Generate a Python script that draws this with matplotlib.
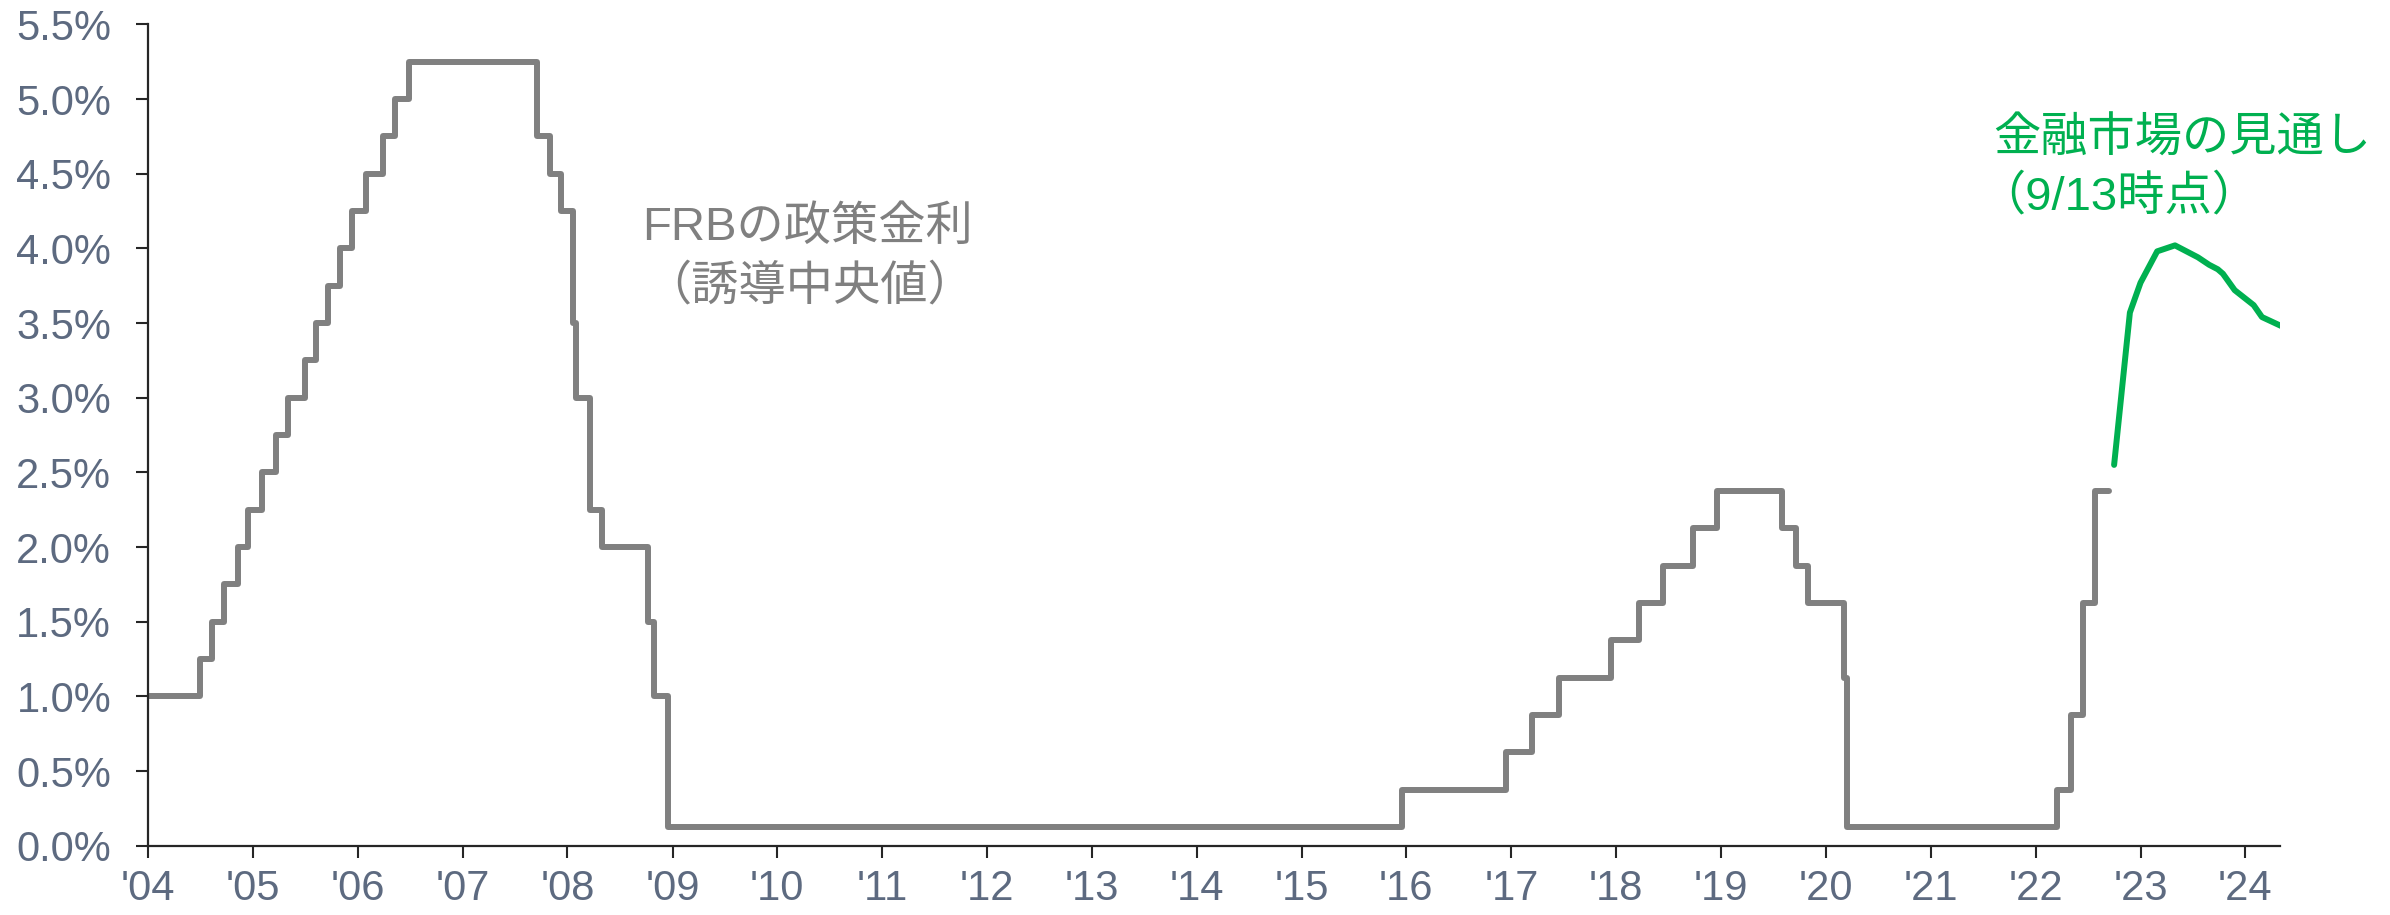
import pandas as pd
import matplotlib.pyplot as plt

# FRB policy rate (midpoint of target range), value from each change date
frb_dates = ['2004-01-01', '2004-06-30', '2004-08-10', '2004-09-21', '2004-11-10', '2004-12-14',
             '2005-02-02', '2005-03-22', '2005-05-03', '2005-06-30', '2005-08-09', '2005-09-20',
             '2005-11-01', '2005-12-13', '2006-01-31', '2006-03-28', '2006-05-10', '2006-06-29',
             '2007-09-18', '2007-10-31', '2007-12-11', '2008-01-22', '2008-01-30', '2008-03-18',
             '2008-04-30', '2008-10-08', '2008-10-29', '2008-12-16', '2015-12-16', '2016-12-14',
             '2017-03-15', '2017-06-14', '2017-12-13', '2018-03-21', '2018-06-13', '2018-09-26',
             '2018-12-19', '2019-07-31', '2019-09-18', '2019-10-30', '2020-03-03', '2020-03-15',
             '2022-03-16', '2022-05-04', '2022-06-15', '2022-07-27', '2022-09-13']
frb_rates = [1.00, 1.25, 1.50, 1.75, 2.00, 2.25,
             2.50, 2.75, 3.00, 3.25, 3.50, 3.75,
             4.00, 4.25, 4.50, 4.75, 5.00, 5.25,
             4.75, 4.50, 4.25, 3.50, 3.00, 2.25,
             2.00, 1.50, 1.00, 0.125, 0.375, 0.625,
             0.875, 1.125, 1.375, 1.625, 1.875, 2.125,
             2.375, 2.125, 1.875, 1.625, 1.125, 0.125,
             0.375, 0.875, 1.625, 2.375, 2.375]

# market expectations (as of 9/13)
mkt_dates = ['2022-10-01', '2022-11-25', '2023-01-01', '2023-02-28', '2023-05-01', '2023-07-20',
             '2023-08-28', '2023-09-27', '2023-10-15', '2023-11-25', '2024-01-30', '2024-02-28',
             '2024-05-05']
mkt_rates = [2.55, 3.57, 3.77, 3.98, 4.02, 3.94,
             3.89, 3.86, 3.83, 3.72, 3.62, 3.54,
             3.48]

years = list(range(2004, 2025))
year_labels = ["'" + str(y)[2:] for y in years]
y_ticks = [i * 0.5 for i in range(12)]

label_color = '#5d6a80'
plt.rcParams['font.family'] = ['Liberation Sans', 'Noto Sans CJK JP', 'DejaVu Sans']

fig = plt.figure(figsize=(23.9, 9.15), dpi=100)
ax = fig.add_axes([0.0619, 0.0757, 0.8921, 0.8977])

ax.plot(pd.to_datetime(frb_dates), frb_rates, drawstyle='steps-post',
        color='#808080', linewidth=4.3, solid_capstyle='round')
ax.plot(pd.to_datetime(mkt_dates), mkt_rates,
        color='#00b050', linewidth=4.3, solid_capstyle='round', solid_joinstyle='round')

ax.set_xlim(pd.Timestamp('2004-01-01'), pd.Timestamp('2024-05-01'))
ax.set_ylim(0, 5.5)
ax.set_xticks([pd.Timestamp(f'{y}-01-01') for y in years])
ax.set_xticklabels(year_labels)
ax.set_yticks(y_ticks)
ax.set_yticklabels([f'{v:.1f}%' for v in y_ticks])

for side in ['top', 'right']:
    ax.spines[side].set_visible(False)
for side in ['left', 'bottom']:
    ax.spines[side].set_color('#262626')
    ax.spines[side].set_linewidth(1.6)

ax.tick_params(axis='both', direction='out', length=8.5, width=1.5, color='#262626',
               labelsize=30, labelcolor=label_color)
ax.tick_params(axis='y', pad=18)
ax.tick_params(axis='x', pad=8)

# labels
fig.text(808 / 2390, 1 - 228 / 915, 'FRBの政策金利', ha='center', va='center',
         fontsize=34, color='#808080')
fig.text(810 / 2390, 1 - 287 / 915, '（誘導中央値）', ha='center', va='center',
         fontsize=34, color='#808080')
fig.text(1993 / 2390, 1 - 140 / 915, '金融市場の見通し', ha='left', va='center',
         fontsize=34, color='#00b050')
fig.text(1978 / 2390, 1 - 197 / 915, '（9/13時点）', ha='left', va='center',
         fontsize=34, color='#00b050')

fig.savefig('out.png', dpi=100)
